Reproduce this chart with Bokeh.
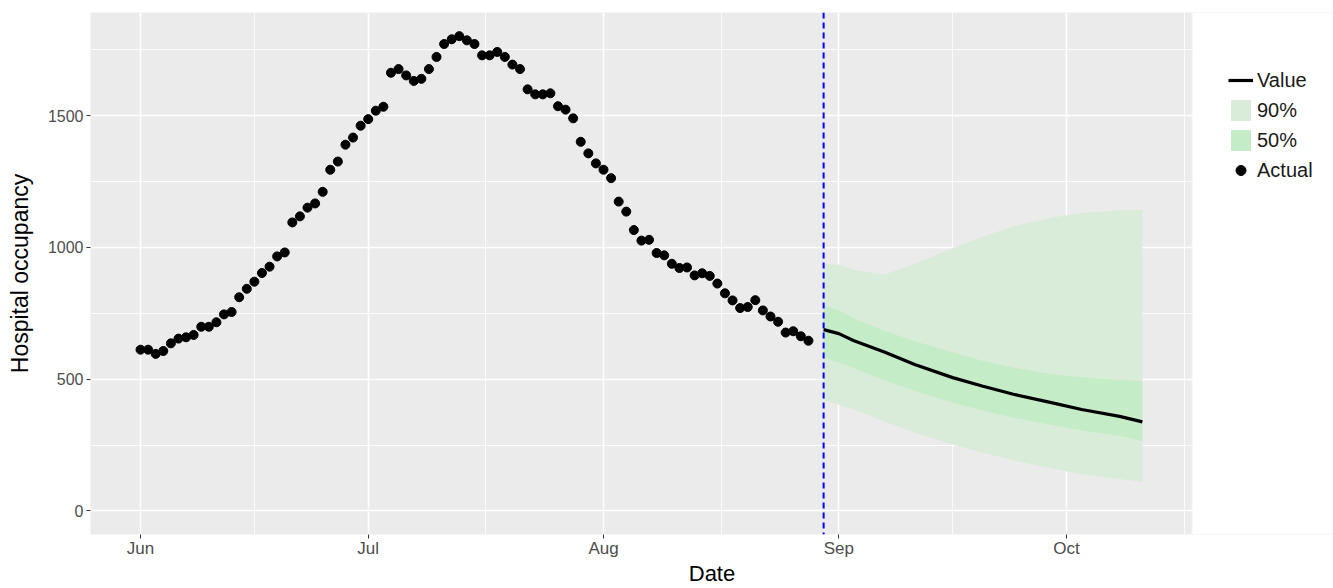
import pandas as pd
from bokeh.plotting import figure
from bokeh.models import (ColumnDataSource, Range1d, FixedTicker, DatetimeTickFormatter,
                          Span, Legend, LegendItem, BoxAnnotation)
from bokeh.embed import file_html
from bokeh.resources import INLINE

# ---------------- data ----------------
actual_start = "2021-06-01"
actual_occupancy = [612, 612, 596, 607, 636, 654, 659, 668, 699, 699,
                    716, 746, 755, 811, 843, 870, 903, 927, 966, 981,
                    1095, 1118, 1151, 1167, 1211, 1295, 1326, 1390, 1417, 1462,
                    1487, 1519, 1534, 1663, 1677, 1653, 1632, 1640, 1677, 1723,
                    1772, 1790, 1802, 1786, 1772, 1729, 1729, 1742, 1723, 1694,
                    1677, 1600, 1581, 1581, 1585, 1536, 1523, 1490, 1401, 1357,
                    1319, 1295, 1263, 1174, 1136, 1066, 1026, 1029, 979, 970,
                    938, 922, 924, 894, 902, 892, 863, 826, 799, 770,
                    774, 800, 761, 738, 718, 677, 682, 663, 646]

forecast_dates = ["2021-08-30", "2021-09-01", "2021-09-03", "2021-09-07", "2021-09-11",
                  "2021-09-16", "2021-09-20", "2021-09-24", "2021-09-29", "2021-10-03",
                  "2021-10-08", "2021-10-11"]
forecast_value = [688, 673, 646, 603, 556, 506, 473, 443, 411, 385, 359, 338]
forecast_50_low = [581, 563, 542, 496, 455, 411, 381, 354, 327, 306, 284, 266]
forecast_50_high = [780, 762, 730, 684, 644, 602, 569, 544, 519, 507, 497, 493]
forecast_90_low = [421, 403, 385, 339, 298, 252, 221, 192, 161, 139, 121, 111]
forecast_90_high = [937, 935, 915, 896, 938, 998, 1041, 1080, 1113, 1131, 1141, 1142]

forecast_start = "2021-08-30"
month_ticks = ["2021-06-01", "2021-07-01", "2021-08-01", "2021-09-01", "2021-10-01", "2021-11-01"]
month_labels_shown = 5
y_ticks = [0, 500, 1000, 1500]
y_minor = [250, 750, 1250, 1750]

# ---------------- sources ----------------
actual_dates = pd.date_range(actual_start, periods=len(actual_occupancy), freq="D")
src_actual = ColumnDataSource(dict(date=actual_dates, value=actual_occupancy))
src_fc = ColumnDataSource(dict(date=pd.to_datetime(forecast_dates), value=forecast_value,
                               lo50=forecast_50_low, hi50=forecast_50_high,
                               lo90=forecast_90_low, hi90=forecast_90_high))


def ms(d):
    return pd.Timestamp(d).value / 1e6


tick_ms = [ms(d) for d in month_ticks]
major_ms = tick_ms[:month_labels_shown]
minor_ms = [(a + b) / 2 for a, b in zip(tick_ms[:-1], tick_ms[1:])]

# panel spans day -6.59 .. 138.6 ; the frame continues to the right edge to hold the legend
day_ms = 86400000.0
px_per_day = 7.59
left_px, panel_px, total_px = 90, 1102, 1333
x0 = ms(actual_start) - 6.59 * day_ms
panel_end = x0 + panel_px / px_per_day * day_ms
x1 = x0 + (total_px - left_px) / px_per_day * day_ms

p = figure(width=total_px, height=588, x_axis_type="datetime",
           x_range=Range1d(x0, x1), y_range=Range1d(-89.4, 1891.7),
           output_backend="svg", toolbar_location=None,
           min_border_left=left_px, min_border_right=0, min_border_top=12, min_border_bottom=51)

p.background_fill_color = "#EBEBEB"
p.border_fill_color = "white"
p.outline_line_color = None

# axes
p.xaxis.ticker = FixedTicker(ticks=major_ms, minor_ticks=minor_ms)
p.xaxis.formatter = DatetimeTickFormatter(days="%b", months="%b", years="%b", hours="%b",
                                          minutes="%b", seconds="%b", milliseconds="%b",
                                          microseconds="%b", minsec="%b", hourmin="%b")
p.yaxis.ticker = FixedTicker(ticks=y_ticks, minor_ticks=y_minor)

for ax in (p.xaxis[0], p.yaxis[0]):
    ax.axis_line_color = None
    ax.major_tick_line_color = "#333333"
    ax.major_tick_in = 0
    ax.major_tick_out = 4
    ax.minor_tick_line_color = None
    ax.major_label_text_font = "Liberation Sans"
    ax.major_label_text_color = "#4D4D4D"
    ax.axis_label_text_font = "Liberation Sans"
    ax.axis_label_text_font_style = "normal"
    ax.axis_label_text_color = "black"

p.xaxis.major_label_text_font_size = "17px"
p.yaxis.major_label_text_font_size = "16px"
p.xaxis.axis_label_text_font_size = "22px"
p.yaxis.axis_label_text_font_size = "23px"
p.xaxis.axis_label = "Date"
p.yaxis.axis_label = "Hospital occupancy"
p.xaxis.major_label_standoff = 0
p.xaxis.axis_label_standoff = 0
p.yaxis.major_label_standoff = 3
p.yaxis.axis_label_standoff = 12

for g in (p.xgrid[0], p.ygrid[0]):
    g.grid_line_color = "white"
    g.grid_line_width = 1.6
    g.minor_grid_line_color = "white"
    g.minor_grid_line_width = 0.8

# white area right of the panel (legend region)
p.add_layout(BoxAnnotation(left=panel_end, fill_color="white", fill_alpha=1,
                           line_color="white", line_width=2, level="underlay"))

# glyphs
r90 = p.varea(x="date", y1="lo90", y2="hi90", source=src_fc, fill_color="#D9EBD9")
r50 = p.varea(x="date", y1="lo50", y2="hi50", source=src_fc, fill_color="#C4EDC7")
rline = p.line(x="date", y="value", source=src_fc, line_color="black", line_width=3.2)
rpts = p.scatter(x="date", y="value", source=src_actual, size=9, color="black")

p.add_layout(Span(location=ms(forecast_start), dimension="height", line_color="#0000FF",
                  line_dash="6 4", line_width=2))

legend = Legend(items=[LegendItem(label="Value", renderers=[rline]),
                       LegendItem(label="90%", renderers=[r90]),
                       LegendItem(label="50%", renderers=[r50]),
                       LegendItem(label="Actual", renderers=[rpts])],
                location=(1138, 351), orientation="vertical",
                glyph_width=25, glyph_height=26, label_height=26, spacing=4,
                padding=0, margin=0, label_standoff=4,
                label_text_font="Liberation Sans", label_text_font_size="20px",
                label_text_color="#1a1a1a",
                background_fill_alpha=0, border_line_alpha=0)
p.add_layout(legend)

open("out.html", "w").write(file_html(p, INLINE))
